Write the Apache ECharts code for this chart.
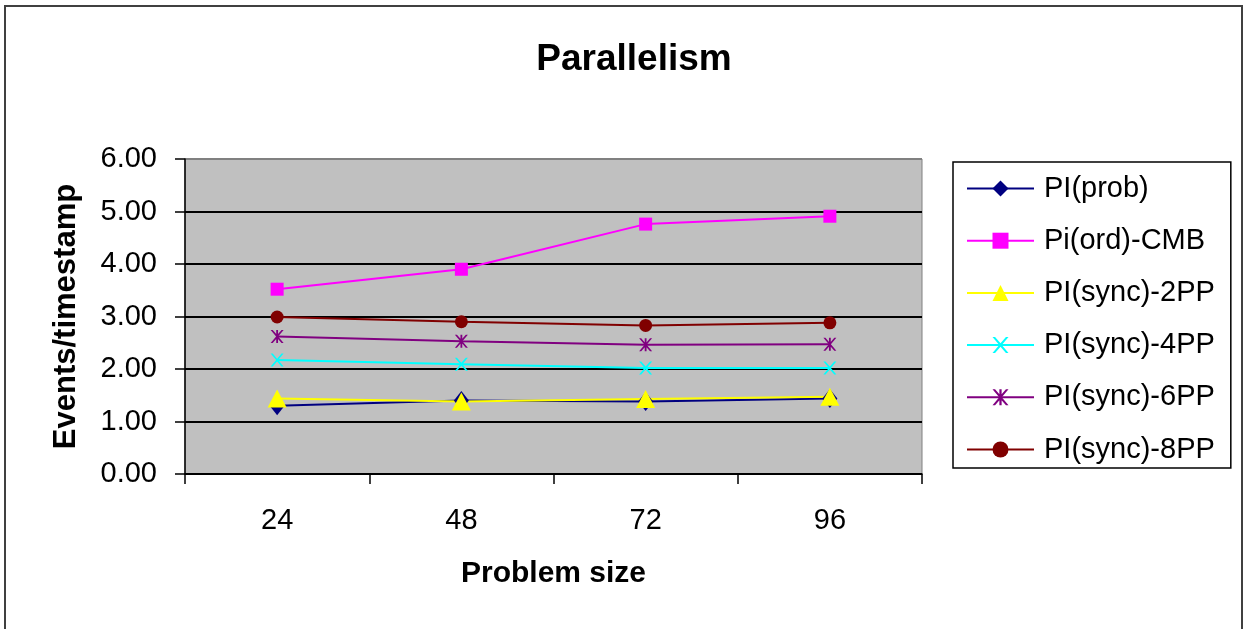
<!DOCTYPE html>
<html>
<head>
<meta charset="utf-8">
<script src="https://cdn.jsdelivr.net/npm/echarts@6/dist/echarts.min.js"></script>
<style>
  html, body { margin: 0; padding: 0; background: #fff; }
  #chart { width: 1245px; height: 629px; }
</style>
</head>
<body>
<div id="chart"></div>
<script>
// Problem sizes along the x axis
const categories = ['24', '48', '72', '96'];

// Events per timestamp for each configuration
const piProb   = [1.30, 1.40, 1.38, 1.44];
const piOrdCmb = [3.52, 3.90, 4.76, 4.91];
const piSync2  = [1.44, 1.38, 1.43, 1.47];
const piSync4  = [2.17, 2.09, 2.02, 2.02];
const piSync6  = [2.62, 2.53, 2.46, 2.47];
const piSync8  = [2.99, 2.90, 2.83, 2.88];

const seriesNames = ['PI(prob)', 'Pi(ord)-CMB', 'PI(sync)-2PP', 'PI(sync)-4PP', 'PI(sync)-6PP', 'PI(sync)-8PP'];
const yTicks = [0, 1, 2, 3, 4, 5, 6];

// Marker shapes: a thin cross and an asterisk
const crossPath = 'path://M0,0 L1.6,0 L5,3.9 L8.4,0 L10,0 L5.8,5 L10,10 L8.4,10 L5,6.1 L1.6,10 L0,10 L4.2,5 Z';
const starPath = 'path://M0,0 L1.6,0 L5,3.9 L8.4,0 L10,0 L5.8,5 L10,10 L8.4,10 L5,6.1 L1.6,10 L0,10 L4.2,5 Z M4.3,0 L5.7,0 L5.7,10 L4.3,10 Z';

const font = 'Liberation Sans, Arial, sans-serif';

function lineSeries(name, data, color, symbol, size) {
  return {
    name: name,
    type: 'line',
    data: data,
    symbol: symbol,
    symbolSize: size,
    showAllSymbol: true,
    lineStyle: { color: color, width: 2 },
    itemStyle: { color: color, borderWidth: 0 },
    emphasis: { disabled: true },
    z: 3
  };
}

const chart = echarts.init(document.getElementById('chart'), null, { renderer: 'canvas' });

chart.setOption({
  animation: false,
  backgroundColor: '#ffffff',
  title: {
    text: 'Parallelism',
    left: 629,
    textAlign: 'center',
    top: 36,
    textStyle: { fontFamily: font, fontSize: 37, fontWeight: 'bold', color: '#000' }
  },
  grid: {
    left: 185,
    right: 323,
    top: 159,
    bottom: 155,
    show: true,
    backgroundColor: '#C0C0C0',
    borderColor: '#808080',
    borderWidth: 1,
    containLabel: false
  },
  legend: {
    orient: 'vertical',
    left: 953,
    top: 162,
    padding: [12, 16, 4, 13],
    itemWidth: 67,
    itemHeight: 20,
    itemGap: 23.2,
    borderColor: '#000',
    borderWidth: 1.5,
    backgroundColor: '#fff',
    selectedMode: false,
    textStyle: { fontFamily: font, fontSize: 29, color: '#000', padding: [0, 0, 0, 5] },
    data: seriesNames
  },
  xAxis: {
    type: 'category',
    data: categories,
    boundaryGap: true,
    name: 'Problem size',
    nameLocation: 'middle',
    nameGap: 85,
    nameTextStyle: { fontFamily: font, fontSize: 30, fontWeight: 'bold', color: '#000' },
    axisLine: { lineStyle: { color: '#000', width: 1.5 } },
    axisTick: { show: true, inside: false, length: 10, alignWithLabel: false, lineStyle: { color: '#000', width: 1.5 } },
    axisLabel: { fontFamily: font, fontSize: 29, color: '#000', margin: 32 },
    splitLine: { show: false }
  },
  yAxis: {
    type: 'value',
    min: yTicks[0],
    max: yTicks[yTicks.length - 1],
    interval: 1,
    name: 'Events/timestamp',
    nameLocation: 'middle',
    nameRotate: 90,
    nameGap: 103,
    nameTextStyle: { fontFamily: font, fontSize: 31, fontWeight: 'bold', color: '#000' },
    axisLine: { show: true, lineStyle: { color: '#000', width: 1.5 } },
    axisTick: { show: true, inside: false, length: 10, lineStyle: { color: '#000', width: 1.5 } },
    axisLabel: {
      fontFamily: font, fontSize: 29, color: '#000', margin: 28,
      formatter: function (v) { return v.toFixed(2); }
    },
    splitLine: {
      show: true,
      lineStyle: { color: ['#000', '#000', '#000', '#000', '#000', '#000', '#808080'], width: 1.8 }
    }
  },
  series: [
    lineSeries(seriesNames[0], piProb,   '#000080', 'diamond', [15, 19]),
    lineSeries(seriesNames[1], piOrdCmb, '#FF00FF', 'rect', 13),
    lineSeries(seriesNames[2], piSync2,  '#FFFF00', 'triangle', [19, 18]),
    lineSeries(seriesNames[3], piSync4,  '#00FFFF', crossPath, [13, 13]),
    lineSeries(seriesNames[4], piSync6,  '#800080', starPath, [13, 13]),
    lineSeries(seriesNames[5], piSync8,  '#800000', 'circle', 13)
  ],
  graphic: [
    {
      type: 'rect',
      shape: { x: 5, y: 6, width: 1237, height: 660 },
      style: { fill: 'none', stroke: '#404040', lineWidth: 2 },
      silent: true,
      z: 10
    }
  ]
});
</script>
</body>
</html>
